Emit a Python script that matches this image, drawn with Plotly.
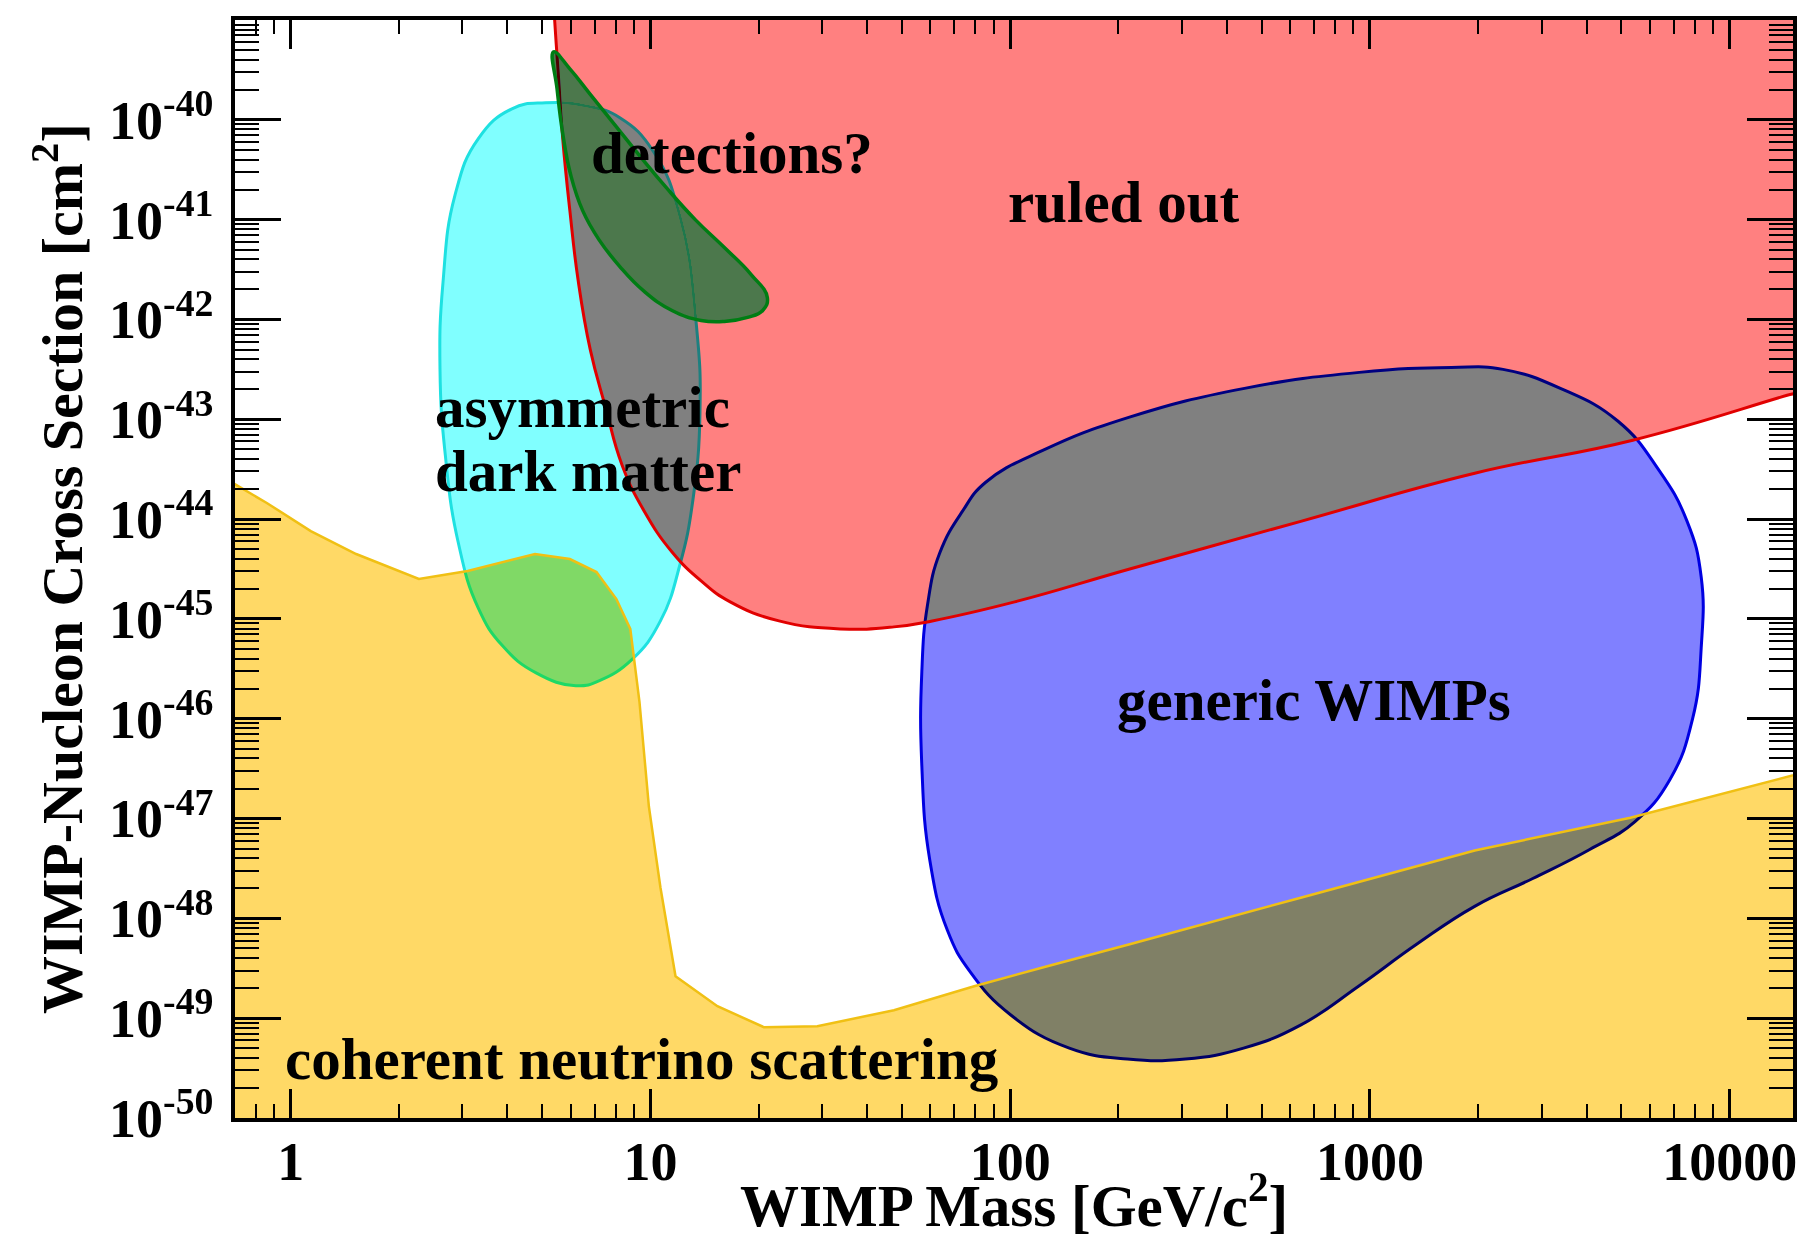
import math
import plotly.graph_objects as go

# ---------------- data (WIMP mass in GeV/c^2, cross-section in cm^2) ----------------
# coherent neutrino scattering floor (upper edge), closed along the bottom
neutrino_mass = [0.6, 0.696, 0.858, 1.137, 1.52, 2.271, 3.103, 4.776, 5.97, 7.08,
                 8.04, 8.79, 9.05, 9.32, 9.90, 10.66, 11.74, 15.35, 20.66, 29.09,
                 47.52, 79.4, 126.8, 214.9, 645.9, 1956, 5297, 15000, 20000, 20000, 0.6]
neutrino_xsec = [3.09e-44, 2.24e-44, 1.45e-44, 7.59e-45, 4.47e-45, 2.51e-45, 3.02e-45, 4.47e-45, 3.98e-45, 2.95e-45,
                 1.58e-45, 7.94e-46, 3.55e-46, 1.48e-46, 1.32e-47, 2.04e-48, 2.63e-49, 1.32e-49, 8.13e-50, 8.32e-50,
                 1.20e-49, 2.09e-49, 3.31e-49, 5.50e-49, 1.62e-48, 4.79e-48, 1.02e-47, 2.69e-47, 3.55e-47, 1e-51, 1e-51]

# ruled-out region (exclusion limit), closed along the top
ruled_mass = [5.34, 5.42, 5.54, 5.71, 5.97, 6.29, 6.80, 7.50, 8.34, 9.61,
              11.48, 13.83, 16.66, 22.76, 33.76, 47.52, 60.72, 102.9, 214.9, 645.9,
              1956, 5377, 14450, 20000, 20000, 5.2]
ruled_xsec = [2.57e-39, 9.55e-40, 3.02e-40, 6.17e-41, 1.23e-41, 2.51e-42, 5.01e-43, 1.32e-43, 3.47e-44, 1.20e-44,
              4.68e-45, 2.40e-45, 1.48e-45, 9.55e-46, 7.94e-46, 8.32e-46, 9.55e-46, 1.48e-45, 3.16e-45, 9.55e-45,
              2.88e-44, 6.17e-44, 1.74e-43, 2.45e-43, 1e-38, 1e-38]

# asymmetric dark matter contour
adm_mass = [5.11, 6.62, 8.22, 10.20, 12.09, 13.42, 13.73, 13.13, 12.09, 10.66, 8.92, 7.19,
            6.20, 4.81, 3.88, 3.32, 2.92, 2.69, 2.60, 2.65, 2.86, 3.32, 4.12, 5.11]
adm_xsec = [1.48e-40, 1.38e-40, 1.05e-40, 4.79e-41, 1.07e-41, 8.71e-43, 1.17e-43, 1.58e-44, 3.55e-45, 9.55e-46, 3.98e-46, 2.40e-46,
            2.14e-46, 2.88e-46, 5.37e-46, 1.29e-45, 5.89e-45, 4.37e-44, 3.16e-43, 2.34e-42, 1.74e-41, 6.46e-41, 1.29e-40, 1.48e-40]

# claimed detections contour
det_mass = [5.38, 5.97, 6.82, 7.92, 9.33, 11.07, 13.32, 16.05, 19.05, 21.13, 20.51, 18.62,
            16.05, 13.83, 11.48, 9.61, 8.22, 7.19, 6.48, 6.01, 5.71, 5.50, 5.38]
det_xsec = [4.79e-40, 3.24e-40, 1.78e-40, 9.12e-41, 4.37e-41, 2.09e-41, 1.0e-41, 5.25e-42, 2.82e-42, 1.66e-42, 1.23e-42, 1.05e-42,
            9.55e-43, 9.77e-43, 1.23e-42, 1.91e-42, 3.39e-42, 6.31e-42, 1.23e-41, 2.75e-41, 7.08e-41, 2.04e-40, 4.79e-40]

# generic WIMPs contour
wimp_mass = [58.9, 63.7, 73.7, 85.5, 123.6, 214.6, 448.1, 934.6, 1684, 2344, 3384, 4895, 6330,
             7611, 8335, 8335, 7889, 6818, 5456, 4083, 2836, 1955, 1348, 929.6, 641.1,
             445.3, 307.0, 211.7, 146.0, 100.6, 77.6, 66.9, 59.8, 56.8, 56.8, 58.9]
wimp_xsec = [1.38e-45, 4.57e-45, 1.20e-44, 2.34e-44, 4.90e-44, 1.05e-43, 2.04e-43, 2.95e-43, 3.31e-43, 3.16e-43, 2.04e-43, 9.55e-44, 3.16e-44,
             9.55e-45, 2.63e-45, 5.13e-46, 1.0e-46, 2.45e-47, 9.33e-48, 4.90e-48, 2.51e-48, 1.32e-48, 5.50e-49, 2.09e-49, 8.51e-50,
             5.01e-50, 3.89e-50, 3.89e-50, 5.01e-50, 1.07e-49, 2.88e-49, 7.59e-49, 3.80e-48, 3.39e-47, 2.95e-46, 1.38e-45]

x_tick_values = [1, 10, 100, 1000, 10000]
x_tick_labels = ["1", "10", "100", "1000", "10000"]
y_tick_exponents = [-50, -49, -48, -47, -46, -45, -44, -43, -42, -41, -40]
y_tick_values = [10.0 ** e for e in y_tick_exponents]
y_tick_labels = ["10<sup>%d</sup>" % e for e in y_tick_exponents]

FONT = "Liberation Serif"

fig = go.Figure()

def region(x, y, fill, line, width, shape):
    fig.add_trace(go.Scatter(
        x=x, y=y, mode="lines", fill="toself", fillcolor=fill,
        line=dict(color=line, width=width, shape=shape, smoothing=1.3),
        hoverinfo="skip", showlegend=False))

# drawing order matters for the overlap (darken) blending
region(wimp_mass, wimp_xsec, "rgb(128,128,255)", "rgb(0,0,225)", 3, "spline")
region(adm_mass, adm_xsec, "rgb(128,255,255)", "rgb(30,225,225)", 3, "spline")
region(ruled_mass, ruled_xsec, "rgb(255,128,128)", "rgb(225,0,0)", 3, "spline")
region(det_mass, det_xsec, "rgb(76,120,76)", "rgb(0,125,20)", 3.5, "spline")
region(neutrino_mass, neutrino_xsec, "rgb(255,217,102)", "rgb(240,192,20)", 2.5, "linear")

lab_font = dict(family=FONT, size=59, color="black", weight="bold")
labels = [
    ("detections?", 16.8, 4.7e-41, "center"),
    ("ruled out", 206, 1.5e-41, "center"),
    ("asymmetric", 2.48, 1.32e-43, "left"),
    ("dark matter", 2.48, 3.02e-44, "left"),
    ("generic WIMPs", 698, 1.55e-46, "center"),
    ("coherent neutrino scattering", 9.43, 3.9e-50, "center"),
]
for txt, xm, ys, anchor in labels:
    fig.add_annotation(x=math.log10(xm), y=math.log10(ys), xref="x", yref="y", text=txt,
                       showarrow=False, xanchor=anchor, yanchor="middle",
                       font=lab_font)

# axis titles
fig.add_annotation(x=0.5, y=-0.0765, xref="paper", yref="paper",
                   text="WIMP Mass [GeV/c<sup>2</sup>]", showarrow=False,
                   xanchor="center", yanchor="middle",
                   font=dict(family=FONT, size=59, color="black", weight="bold"))
fig.add_annotation(x=-0.1136, y=0.5, xref="paper", yref="paper", textangle=-90,
                   text="WIMP-Nucleon Cross Section [cm<sup>2</sup>]", showarrow=False,
                   xanchor="center", yanchor="middle",
                   font=dict(family=FONT, size=58, color="black", weight="bold"))

axis_common = dict(
    type="log", showgrid=False, zeroline=False, showline=True, linewidth=3.5,
    linecolor="black", mirror="allticks", ticks="inside", tickcolor="black",
    tickmode="array", automargin=False,
)

fig.update_xaxes(
    **axis_common,
    range=[math.log10(0.7), math.log10(15000)],
    tickvals=x_tick_values, ticktext=x_tick_labels,
    ticklen=29, tickwidth=2.5,
    tickfont=dict(family=FONT, size=54, color="black", weight="bold"),
    ticklabelstandoff=-7,
    minor=dict(ticks="inside", ticklen=14, tickwidth=2, tickcolor="black", dtick="D1", showgrid=False),
)
fig.update_yaxes(
    **axis_common,
    range=[-50, -39],
    tickvals=y_tick_values, ticktext=y_tick_labels,
    ticklen=46, tickwidth=2.5,
    tickfont=dict(family=FONT, size=54, color="black", weight="bold"),
    ticklabelstandoff=7,
    minor=dict(ticks="inside", ticklen=24, tickwidth=2, tickcolor="black", dtick="D1", showgrid=False),
)

fig.update_layout(
    width=1819, height=1237,
    margin=dict(l=235, r=26, t=20, b=119, pad=0, autoexpand=False),
    paper_bgcolor="white", plot_bgcolor="white",
    showlegend=False,
    font=dict(family=FONT, color="black"),
)

post_js = (
    "document.body.style.margin='0';document.body.style.overflow='hidden';"
    "document.querySelectorAll('.scatterlayer path.js-fill')"
    ".forEach(function(p){p.style.mixBlendMode='darken';});"
)
fig.write_html("out.html", post_script=post_js, config={"displayModeBar": False})
